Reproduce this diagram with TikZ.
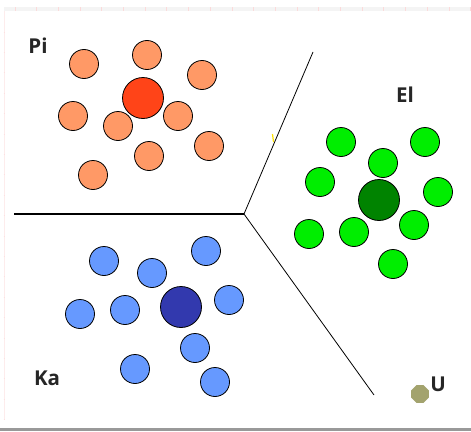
\documentclass[tikz,border=0pt]{standalone}
\usepackage{fontspec}
\setmainfont{Open Sans}
\usetikzlibrary{shapes.geometric}
\definecolor{piLight}{HTML}{FF9966}
\definecolor{piCore}{HTML}{FF4418}
\definecolor{elLight}{HTML}{00EE00}
\definecolor{elCore}{HTML}{008300}
\definecolor{kaLight}{HTML}{6699FF}
\definecolor{kaCore}{HTML}{3239AE}
\definecolor{uDot}{HTML}{A3A36E}
\definecolor{rulerPink}{HTML}{FBDADA}
\definecolor{rulerBand}{HTML}{F4F4F4}
\tikzset{
  small/.style={circle, draw=black, line width=0.8pt, minimum size=29pt, inner sep=0pt},
  core/.style={circle, draw=black, line width=0.8pt, minimum size=41pt, inner sep=0pt},
  pi/.style={small, fill=piLight},
  el/.style={small, fill=elLight},
  ka/.style={small, fill=kaLight},
  lbl/.style={font=\fontsize{20.5}{20.5}\selectfont\bfseries, text=black!85, inner sep=0pt},
  divider/.style={line width=0.8pt, black},
}
\begin{document}
\begin{tikzpicture}[x=1pt, y=-1pt]
\useasboundingbox (0,0) rectangle (471,431);
\fill[white] (0,0) rectangle (471,431);
% ruler frame
\fill[rulerBand] (4,7) rectangle (471,11);
\foreach \i in {0,...,21} \draw[rulerPink, line width=1pt] ({15+21.7*\i},7) -- ({15+21.7*\i},11);
\draw[rulerPink!50, line width=0.5pt] (4,11) -- (4,420);
\foreach \i in {0,...,19} \draw[rulerPink!80, line width=0.8pt] (3.5,{32+20.4*\i}) -- (5,{32+20.4*\i});
\fill[black!40] (0,427.5) rectangle (471,431);
% dividing lines
\coordinate (hub) at (244,214);
\coordinate (west) at (14,214);
\coordinate (north) at (313,52);
\coordinate (south) at (374,395);
\draw[divider, line width=1.1pt] (hub) -- (west);
\draw[divider] (hub) -- (north);
\draw[divider] (hub) -- (south);
\draw[yellow!85!orange, line width=1.2pt] (272.5,134) -- (273.5,142);
% Pi cluster
\node[pi] (p1) at (84,64) {};
\node[pi] (p2) at (147,55) {};
\node[pi] (p3) at (202,75) {};
\node[pi] (p4) at (73,116) {};
\node[pi] (p5) at (118,126) {};
\node[pi] (p6) at (178,116) {};
\node[pi] (p7) at (209,146) {};
\node[pi] (p8) at (149,156) {};
\node[pi] (p9) at (93,175) {};
\node[core, fill=piCore] (pc) at (143,98) {};
% El cluster
\node[el] (e1) at (341,142) {};
\node[el] (e2) at (425,142) {};
\node[el] (e3) at (383,163) {};
\node[el] (e4) at (320,182) {};
\node[el] (e5) at (438,192) {};
\node[el] (e6) at (309,234) {};
\node[el] (e7) at (354,232) {};
\node[el] (e8) at (414,225) {};
\node[el] (e9) at (393,264) {};
\node[core, fill=elCore] (ec) at (379,200) {};
% Ka cluster
\node[ka] (k1) at (104,261) {};
\node[ka] (k2) at (206,251) {};
\node[ka] (k3) at (152,273) {};
\node[ka] (k4) at (80,314) {};
\node[ka] (k5) at (125,310) {};
\node[ka] (k6) at (229,300) {};
\node[ka] (k7) at (195,348) {};
\node[ka] (k8) at (135,369) {};
\node[ka] (k9) at (215,382) {};
\node[core, fill=kaCore] (kc) at (181,307) {};
% unknown sample
\node[regular polygon, regular polygon sides=8, fill=uDot, minimum size=19pt, inner sep=0pt] (u) at (420,394) {};
% labels
\node[lbl] (tPi) at (38,46) {Pi};
\node[lbl] (tEl) at (405,95) {El};
\node[lbl] (tKa) at (47,378) {Ka};
\node[lbl] (tU) at (438,384) {U};
\end{tikzpicture}
\end{document}
